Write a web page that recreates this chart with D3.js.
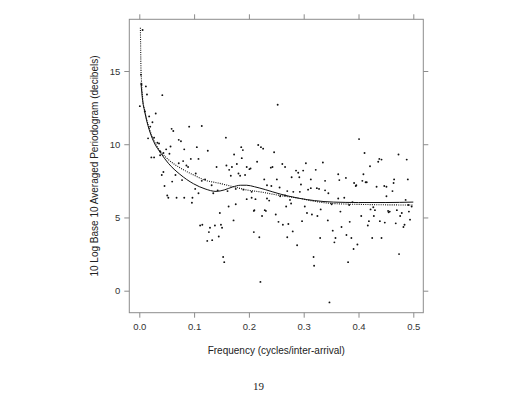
<!DOCTYPE html>
<html><head><meta charset="utf-8">
<script src="https://cdn.jsdelivr.net/npm/d3@7"></script>
<style>body{margin:0;background:#fff}svg{display:block}</style>
</head><body>
<svg id="c" width="517" height="400"></svg>
<script>
const freq = [0.001,0.003,0.004,0.006,0.010,0.012,0.014,0.018,0.020,0.024,0.030,0.042,0.016,0.027,0.033,0.036,0.038,0.044,0.022,0.027,0.038,0.041,0.044,0.046,0.049,0.051,0.053,0.055,0.057,0.059,0.060,0.062,0.066,0.068,0.072,0.072,0.076,0.078,0.080,0.082,0.082,0.086,0.089,0.091,0.094,0.096,0.097,0.102,0.103,0.105,0.108,0.108,0.111,0.114,0.114,0.115,0.120,0.124,0.125,0.127,0.129,0.132,0.133,0.135,0.138,0.141,0.143,0.145,0.147,0.149,0.151,0.153,0.155,0.158,0.159,0.161,0.163,0.164,0.167,0.169,0.172,0.173,0.176,0.176,0.178,0.181,0.184,0.186,0.187,0.189,0.190,0.193,0.196,0.196,0.201,0.203,0.205,0.205,0.209,0.209,0.210,0.212,0.215,0.217,0.219,0.221,0.222,0.224,0.226,0.228,0.229,0.231,0.233,0.233,0.237,0.240,0.241,0.243,0.246,0.249,0.251,0.2525,0.254,0.256,0.257,0.261,0.262,0.266,0.266,0.268,0.270,0.270,0.272,0.275,0.277,0.278,0.280,0.281,0.286,0.288,0.290,0.292,0.293,0.295,0.297,0.299,0.302,0.304,0.306,0.308,0.313,0.313,0.315,0.318,0.319,0.322,0.324,0.325,0.328,0.330,0.331,0.335,0.339,0.339,0.344,0.345,0.347,0.351,0.353,0.356,0.358,0.363,0.363,0.365,0.367,0.369,0.374,0.377,0.378,0.381,0.383,0.384,0.387,0.389,0.391,0.392,0.395,0.396,0.398,0.401,0.405,0.407,0.409,0.411,0.413,0.415,0.417,0.419,0.421,0.422,0.425,0.427,0.428,0.430,0.433,0.436,0.438,0.439,0.442,0.442,0.447,0.448,0.451,0.451,0.454,0.455,0.457,0.462,0.464,0.465,0.468,0.470,0.473,0.474,0.476,0.479,0.482,0.484,0.486,0.488,0.490,0.491,0.492,0.494,0.497];
const periodogram = [12.6,14.75,14.1,17.8,12.25,13.95,13.4,11.9,11.2,11.5,12.1,13.35,10.4,10.45,10.1,10.05,9.5,9.4,9.1,9.1,9.25,7.9,8.1,7.15,9.65,6.5,6.35,9.35,9.85,11.05,7.45,10.9,7.9,6.35,10.3,8.7,10.2,7.55,8.85,9.65,6.35,8.55,8.45,11.2,9.0,6.0,6.35,6.95,8.0,9.8,9.0,6.65,4.45,11.25,7.5,4.5,7.6,3.4,9.55,4.0,4.3,7.2,3.45,6.65,4.45,8.45,6.85,3.7,5.3,4.5,4.3,2.3,1.95,10.45,8.55,6.8,5.75,8.25,7.85,8.45,4.8,9.3,6.95,5.9,8.65,8.0,7.85,9.8,9.05,9.6,6.9,7.9,8.45,6.25,8.3,8.35,6.75,6.35,5.45,4.0,5.5,6.25,8.8,9.95,3.65,0.6,9.8,5.1,9.7,7.6,5.5,5.45,7.2,6.3,6.15,8.4,7.15,8.45,9.45,5.2,7.6,12.7,4.7,7.05,6.45,8.65,4.5,8.45,6.5,5.75,6.8,3.65,4.55,6.2,5.95,7.75,4.05,6.75,8.2,3.1,8.05,7.75,6.75,7.25,4.75,8.2,5.75,8.7,5.3,6.9,7.6,7.0,5.2,2.3,1.7,8.25,7.0,5.1,6.95,3.6,5.55,8.75,7.5,6.85,4.8,6.65,-0.8,5.9,4.1,3.3,3.6,7.95,6.3,7.55,5.4,4.35,6.35,7.7,3.8,1.95,5.85,4.7,3.6,6.05,2.85,7.35,7.15,7.2,3.15,10.35,5.1,7.5,7.95,9.4,7.4,7.4,4.45,4.75,8.5,5.55,3.6,5.7,5.1,5.5,7.1,8.8,9.0,4.75,8.95,3.6,7.15,4.65,7.1,6.45,5.45,5.35,5.4,6.8,7.35,7.6,4.6,5.5,9.3,2.5,5.1,5.3,4.35,4.5,6.2,8.95,7.6,5.85,5.4,4.85,5.75];

// smooth fits
const solidFreq  = [0.003,0.006,0.010,0.0135,0.018,0.026,0.040,0.053,0.074,0.099,0.120,0.140,0.155,0.170,0.185,0.196,0.210,0.230,0.257,0.293,0.320,0.354,0.400,0.450,0.500];
const solidVal   = [14.2,13.0,12.2,11.6,11.0,10.2,9.35,8.7,7.95,7.3,6.95,6.78,6.88,7.08,7.2,7.2,7.1,6.9,6.6,6.3,6.15,6.05,6.02,6.02,6.05];
const dottedFreq = [0.002,0.0025,0.003,0.004,0.006,0.010,0.0135,0.018,0.026,0.040,0.053,0.074,0.099,0.120,0.144,0.172,0.196,0.220,0.257,0.293,0.320,0.354,0.420,0.500];
const dottedVal  = [17.95,16.5,15.2,14.3,13.2,12.3,11.7,11.1,10.3,9.45,8.95,8.4,7.9,7.55,7.35,7.1,6.88,6.75,6.5,6.3,6.1,5.95,5.88,5.85];

const xTicks = [0.0,0.1,0.2,0.3,0.4,0.5];
const yTicks = [0,5,10,15];

const svg = d3.select("#c");
const L=129.3,R=423.3,T=19.3,B=312.7;
const x = d3.scaleLinear().domain([0,0.5]).range([139.3,413.3]);
const y = d3.scaleLinear().domain([0,15]).range([290.7,71]);
const font = "'Liberation Sans', Arial, Helvetica, sans-serif";
const grey = "#8c8c8c";

svg.append("rect").attr("x",L).attr("y",T).attr("width",R-L).attr("height",B-T)
  .attr("fill","none").attr("stroke",grey).attr("stroke-width",1);

function styleAxis(g){
  g.select(".domain").remove();
  g.selectAll(".tick line").attr("stroke",grey);
  g.selectAll(".tick text").attr("fill","#333").attr("font-family",font).attr("font-size","9.5px");
}
svg.append("g").attr("transform",`translate(0,${B})`)
  .call(d3.axisBottom(x).tickValues(xTicks).tickFormat(d3.format(".1f")).tickSize(5).tickPadding(6)).call(styleAxis);
svg.append("g").attr("transform",`translate(0,${T})`)
  .call(d3.axisTop(x).tickValues(xTicks).tickFormat("").tickSize(5)).call(styleAxis);
svg.append("g").attr("transform",`translate(${L},0)`)
  .call(d3.axisLeft(y).tickValues(yTicks).tickFormat(d3.format("d")).tickSize(5).tickPadding(4)).call(styleAxis);
svg.append("g").attr("transform",`translate(${R},0)`)
  .call(d3.axisRight(y).tickValues(yTicks).tickFormat("").tickSize(5)).call(styleAxis);

const pts = freq.map((f,i)=>({f, v:periodogram[i]}));
svg.append("g").selectAll("circle").data(pts).join("circle")
  .attr("cx",d=>x(d.f)).attr("cy",d=>y(d.v)).attr("r",0.95).attr("fill","#111");

const line = d3.line().x(d=>x(d[0])).y(d=>y(d[1])).curve(d3.curveMonotoneX);
svg.append("path").attr("d",line(solidFreq.map((f,i)=>[f,solidVal[i]])))
  .attr("fill","none").attr("stroke","#111").attr("stroke-width",1.0);
svg.append("path").attr("d",line(dottedFreq.map((f,i)=>[f,dottedVal[i]])))
  .attr("fill","none").attr("stroke","#111").attr("stroke-width",1.1).attr("stroke-dasharray","1,1.2");

svg.append("text").attr("x",(L+R)/2).attr("y",354).attr("text-anchor","middle")
  .attr("font-family",font).attr("font-size","10px").attr("fill","#222")
  .text("Frequency (cycles/inter-arrival)");
svg.append("text").attr("transform",`translate(98,${(T+B)/2}) rotate(-90)`).attr("text-anchor","middle")
  .attr("font-family",font).attr("font-size","10px").attr("fill","#222")
  .text("10 Log Base 10 Averaged Periodogram (decibels)");
svg.append("text").attr("x",258.5).attr("y",390).attr("text-anchor","middle")
  .attr("font-family","'Liberation Serif', 'Times New Roman', serif").attr("font-size","11px").attr("fill","#222")
  .text("19");
</script>
</body></html>
